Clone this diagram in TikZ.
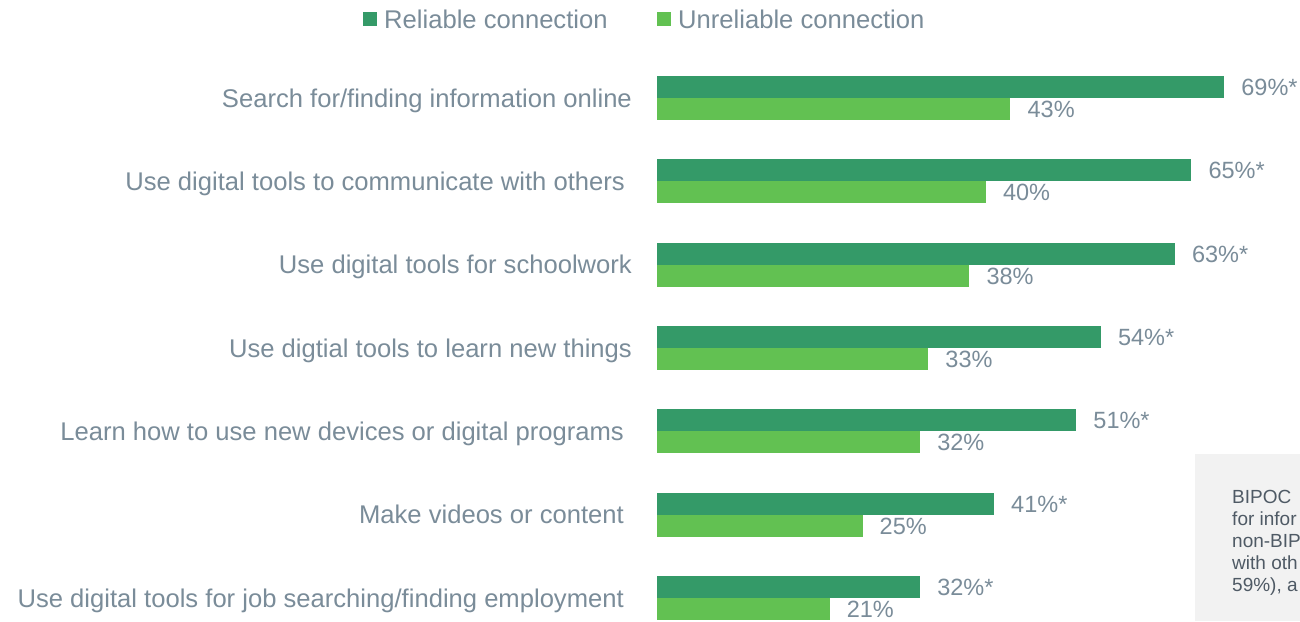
\documentclass[tikz,border=0pt]{standalone}
\usepackage{fontspec}
\setmainfont{Liberation Sans}
\definecolor{dk}{HTML}{349A68}
\definecolor{lt}{HTML}{62C152}
\definecolor{lbl}{HTML}{7A8C99}
\definecolor{boxfill}{HTML}{F2F2F2}
\definecolor{boxtxt}{HTML}{4F5A65}
\newcommand\chartrow[6]{%
  \node[catlab, anchor=east] (cat#1) at (#3,#2) {#4};
  \node[bar, fill=dk, minimum width={#5*8.22pt}, anchor=south west] (dk#1) at (657,#2) {};
  \node[bar, fill=lt, minimum width={#6*8.22pt}, anchor=north west] (lt#1) at (657,#2) {};
  \node[vallab, anchor=west] (vd#1) at ([xshift=17pt]dk#1.east) {#5\%*};
  \node[vallab, anchor=west] (vl#1) at ([xshift=17pt]lt#1.east) {#6\%};
}
\begin{document}
\begin{tikzpicture}[x=1pt,y=-1pt,
  catlab/.style={font=\fontsize{25.6}{28}\selectfont, text=lbl, inner sep=0pt, text height=18pt, text depth=0pt},
  vallab/.style={font=\fontsize{23.5}{26}\selectfont, text=lbl, inner sep=0pt, text height=17pt, text depth=0pt},
  bar/.style={draw=none, inner sep=0pt, minimum height=22pt, outer sep=0pt},
  boxlab/.style={font=\fontsize{19}{21}\selectfont, text=boxtxt, inner sep=0pt, anchor=west, text height=13.5pt, text depth=0pt}]
\useasboundingbox (0,0) rectangle (1300,621);
\fill[white] (0,0) rectangle (1300,621);
% legend
\node[fill=dk, minimum size=14pt, inner sep=0pt] (legdk) at (370,19) {};
\node[catlab, anchor=west] (legdkt) at (384,19) {Reliable connection};
\node[fill=lt, minimum size=14pt, inner sep=0pt] (leglt) at (664,19) {};
\node[catlab, anchor=west] (leglt) at (678,19) {Unreliable connection};
% rows
\chartrow{1}{98}{632}{Search for/finding information online}{69}{43}
\chartrow{2}{181.3}{625}{Use digital tools to communicate with others}{65}{40}
\chartrow{3}{264.7}{632}{Use digital tools for schoolwork}{63}{38}
\chartrow{4}{348}{632}{Use digtial tools to learn new things}{54}{33}
\chartrow{5}{431.3}{624}{Learn how to use new devices or digital programs}{51}{32}
\chartrow{6}{514.7}{624}{Make videos or content}{41}{25}
\chartrow{7}{598}{624}{Use digital tools for job searching/finding employment}{32}{21}
% side box (cut at the picture's edge)
\begin{scope}
\clip (1195,454) rectangle (1300,621);
\node[fill=boxfill, minimum width=200pt, minimum height=167pt, anchor=north west, inner sep=0pt] (sidebox) at (1195,454) {};
\node[boxlab] (b1) at (1232,497) {BIPOC};
\node[boxlab] (b2) at (1232,519) {for infor};
\node[boxlab] (b3) at (1232,541) {non-BIP};
\node[boxlab] (b4) at (1232,563) {with oth};
\node[boxlab] (b5) at (1232,585) {59\%), a};
\end{scope}
\end{tikzpicture}
\end{document}
